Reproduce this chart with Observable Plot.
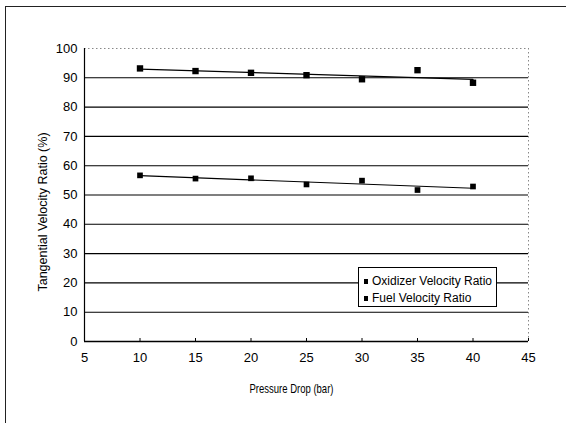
<!DOCTYPE html>
<html>
<head>
<meta charset="utf-8">
<script src="https://cdn.jsdelivr.net/npm/d3@7"></script>
<script src="https://cdn.jsdelivr.net/npm/@observablehq/plot@0.6"></script>
<style>
  html, body { margin: 0; padding: 0; background: #fff; }
  #wrap { position: relative; width: 568px; height: 423px; overflow: hidden;
          font-family: "Liberation Sans", Arial, sans-serif; }
  #frame { position: absolute; left: 5px; top: 6px; width: 560px; height: 430px;
           border-top: 1.5px solid #222; border-left: 1.5px solid #222; }
  #legend { position: absolute; left: 358px; top: 267px; width: 137px; height: 38px;
            border: 1px solid #000; background: #fff; font-size: 12px; color: #000; }
  #legend .row { position: absolute; left: 5px; display: flex; align-items: center; white-space: nowrap; }
  #legend .sw { width: 4px; height: 5px; background: #000; margin-right: 4px; }
</style>
</head>
<body>
<div id="wrap">
  <div id="frame"></div>
  <div id="chart"></div>
  <div id="legend"></div>
</div>
<script>
// Pressure drop (bar) and the measured tangential velocity ratios (%)
const pressure = [10, 15, 20, 25, 30, 35, 40];
const oxidizer = [93.2, 92.3, 91.7, 90.9, 89.5, 92.6, 88.3];
const fuel = [56.7, 55.6, 55.7, 53.6, 54.9, 51.7, 52.9];

const seriesNames = ["Oxidizer Velocity Ratio", "Fuel Velocity Ratio"];
const xTicks = [5, 10, 15, 20, 25, 30, 35, 40, 45];
const yTicks = [0, 10, 20, 30, 40, 50, 60, 70, 80, 90, 100];
const gridTicks = [10, 20, 30, 40, 50, 60, 70, 80, 90];

const oxData = pressure.map((p, i) => ({x: p, y: oxidizer[i]}));
const fuelData = pressure.map((p, i) => ({x: p, y: fuel[i]}));

const chart = Plot.plot({
  width: 568,
  height: 423,
  marginLeft: 84,
  marginRight: 40,
  marginTop: 48,
  marginBottom: 82,
  style: {fontFamily: "Liberation Sans, Arial, sans-serif", fontSize: "13px", color: "#000", background: "transparent"},
  x: {domain: [5, 45]},
  y: {domain: [0, 100]},
  marks: [
    Plot.gridY(gridTicks, {stroke: "#000", strokeOpacity: 1, strokeWidth: 1.1}),
    Plot.ruleY([100], {stroke: "#888", strokeDasharray: "1.5,2.5"}),
    Plot.ruleX([45], {stroke: "#888", strokeDasharray: "1.5,2.5"}),
    Plot.ruleX([5], {stroke: "#000", strokeWidth: 1.2}),
    Plot.ruleY([0], {stroke: "#000", strokeWidth: 1.5}),
    Plot.axisY({ticks: yTicks, tickSize: 0, tickPadding: 7, label: null, fontSize: 13}),
    Plot.axisX({ticks: xTicks, tickSize: 0, tickPadding: 11, label: null, fontSize: 13}),
    Plot.axisX({ticks: xTicks, tickSize: 3, dy: -3, tickFormat: () => "", label: null, stroke: "#000"}),
    Plot.linearRegressionY(oxData, {x: "x", y: "y", stroke: "#000", strokeWidth: 1.2, ci: 0}),
    Plot.linearRegressionY(fuelData, {x: "x", y: "y", stroke: "#000", strokeWidth: 1.2, ci: 0}),
    Plot.dot(oxData, {x: "x", y: "y", symbol: "square", r: 3.6, fill: "#000", stroke: "none"}),
    Plot.dot(fuelData, {x: "x", y: "y", symbol: "square", r: 3.2, fill: "#000", stroke: "none"}),
    Plot.text(["Tangential Velocity Ratio (%)"], {frameAnchor: "left", textAnchor: "middle", rotate: -90, dx: -42, dy: 17, fontSize: 12.5, fill: "#000"}),
    Plot.text(["Pressure Drop (bar)"], {frameAnchor: "bottom", textAnchor: "middle", dy: 51, dx: -15, fontSize: 13.5, fill: "#000", className: "xtitle"})
  ]
});
document.getElementById("chart").appendChild(chart);

// Narrow the x-axis title to its condensed width
d3.select(chart).selectAll(".xtitle text")
  .attr("textLength", 84).attr("lengthAdjust", "spacingAndGlyphs");

// Legend box inside the plot area
const legend = d3.select("#legend");
seriesNames.forEach((name, i) => {
  const row = legend.append("div").attr("class", "row").style("top", (i === 0 ? 6 : 23) + "px");
  row.append("div").attr("class", "sw");
  row.append("span").text(name);
});
</script>
</body>
</html>
